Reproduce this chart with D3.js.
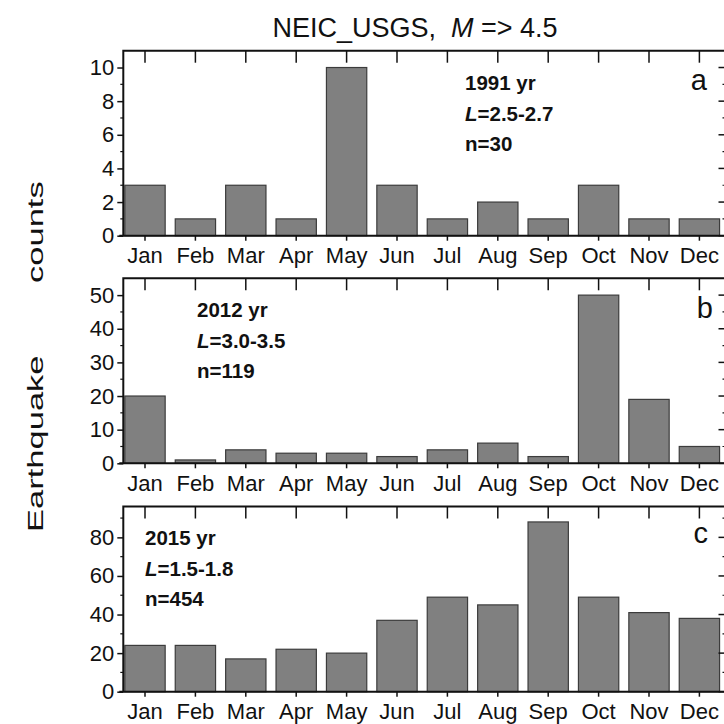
<!DOCTYPE html>
<html><head><meta charset="utf-8">
<script src="https://cdn.jsdelivr.net/npm/d3@7"></script>
<style>
body{margin:0;background:#fff}
svg{display:block}
text{font-family:"Liberation Sans",Arial,sans-serif;fill:#111}
</style>
</head><body>
<script>
// Monthly earthquake counts (NEIC/USGS catalogue, M >= 4.5) for three years
const months = ["Jan","Feb","Mar","Apr","May","Jun","Jul","Aug","Sep","Oct","Nov","Dec"];
const counts1991 = [3,1,3,1,10,3,1,2,1,3,1,1];
const counts2012 = [20,1,4,3,3,2,4,6,2,50,19,5];
const counts2015 = [24,24,17,22,20,37,49,45,88,49,41,38];

const panelLetters = ["a","b","c"];
const yearLabels = ["1991 yr","2012 yr","2015 yr"];
const lRanges = ["=2.5-2.7","=3.0-3.5","=1.5-1.8"];
const nLabels = ["n=30","n=119","n=454"];

const yMaxes = [11, 55, 96];
const yTicks1991 = [0,2,4,6,8,10];
const yTicks2012 = [0,10,20,30,40,50];
const yTicks2015 = [0,20,40,60,80];
const yMinor1991 = [1,3,5,7,9];
const yMinor2012 = [5,15,25,35,45];
const yMinor2015 = [10,30,50,70,90];

const W = 724, H = 724;
const svg = d3.select("body").append("svg").attr("width", W).attr("height", H);

const axisLeftX = 123.3, axisRightX = 725.5;
const panels = [
  {values: counts1991, ticks: yTicks1991, minor: yMinor1991, top: 50.7, bottom: 235.7,
   noteX: 465, noteY: 90, letterX: 707, letterY: 90},
  {values: counts2012, ticks: yTicks2012, minor: yMinor2012, top: 278.3, bottom: 463.3,
   noteX: 197, noteY: 317, letterX: 713, letterY: 318},
  {values: counts2015, ticks: yTicks2015, minor: yMinor2015, top: 506.5, bottom: 691.7,
   noteX: 145, noteY: 545, letterX: 708, letterY: 543}
];

const x = d3.scaleBand().domain(months).range([119.8, 724.6]).paddingInner(0.2).paddingOuter(0.1);

panels.forEach((p, i) => {
  const y = d3.scaleLinear().domain([0, yMaxes[i]]).range([p.bottom, p.top]);
  const g = svg.append("g");

  // bars
  g.selectAll("rect.bar").data(p.values).join("rect")
    .attr("class", "bar")
    .attr("x", (d, k) => x(months[k]))
    .attr("width", x.bandwidth())
    .attr("y", d => y(d))
    .attr("height", d => y(0) - y(d))
    .attr("fill", "#808080")
    .attr("stroke", "#3c3c3c")
    .attr("stroke-width", 1.2);

  // left axis with major labels
  const yl = g.append("g").attr("transform", `translate(${axisLeftX},0)`)
    .call(d3.axisLeft(y).tickValues(p.ticks).tickSize(6).tickPadding(3).tickFormat(d3.format("d")));
  yl.select(".domain").remove();
  yl.selectAll("line").attr("stroke", "#111").attr("stroke-width", 1.5);
  yl.selectAll("text").style("font-size", "22px").attr("fill", "#111");
  // left minor ticks
  g.selectAll("line.lminor").data(p.minor).join("line")
    .attr("x1", axisLeftX - 3).attr("x2", axisLeftX)
    .attr("y1", d => y(d)).attr("y2", d => y(d))
    .attr("stroke", "#111").attr("stroke-width", 1.2);

  // right axis ticks pointing inward
  g.selectAll("line.rmajor").data(p.ticks).join("line")
    .attr("x1", axisRightX - 7).attr("x2", axisRightX)
    .attr("y1", d => y(d)).attr("y2", d => y(d))
    .attr("stroke", "#111").attr("stroke-width", 1.5);
  g.selectAll("line.rminor").data(p.minor).join("line")
    .attr("x1", axisRightX - 3).attr("x2", axisRightX)
    .attr("y1", d => y(d)).attr("y2", d => y(d))
    .attr("stroke", "#111").attr("stroke-width", 1.2);

  // bottom month axis
  const xb = g.append("g").attr("transform", `translate(0,${p.bottom})`)
    .call(d3.axisBottom(x).tickSize(5).tickPadding(7));
  xb.select(".domain").remove();
  xb.selectAll("line").attr("stroke", "#111").attr("stroke-width", 1.5);
  xb.selectAll("text").style("font-size", "22px").attr("fill", "#111");

  // top month ticks pointing inward
  const xt = g.append("g").attr("transform", `translate(0,${p.top})`)
    .call(d3.axisTop(x).tickSize(-12).tickFormat(""));
  xt.select(".domain").remove();
  xt.selectAll("line").attr("stroke", "#111").attr("stroke-width", 1.5);

  // frame
  g.append("path")
    .attr("d", `M${axisLeftX - 4},${p.bottom}H${axisRightX}M${axisLeftX},${p.bottom}V${p.top}H${axisRightX}V${p.bottom}`)
    .attr("fill", "none").attr("stroke", "#111").attr("stroke-width", 2);

  // annotation block
  const note = g.append("g").style("font-size", "20.5px").style("font-weight", "bold");
  note.append("text").attr("x", p.noteX).attr("y", p.noteY).text(yearLabels[i]);
  const lt = note.append("text").attr("x", p.noteX).attr("y", p.noteY + 30.5);
  lt.append("tspan").style("font-style", "italic").text("L");
  lt.append("tspan").text(lRanges[i]);
  note.append("text").attr("x", p.noteX).attr("y", p.noteY + 60.5).text(nLabels[i]);

  // panel letter
  g.append("text").attr("x", p.letterX).attr("y", p.letterY)
    .attr("text-anchor", "end").style("font-size", "29px").text(panelLetters[i]);
});

// title
const title = svg.append("text").attr("x", 415).attr("y", 37.3)
  .attr("text-anchor", "middle").style("font-size", "27px").style("white-space", "pre");
title.append("tspan").text("NEIC_USGS,  ");
title.append("tspan").style("font-style", "italic").text("M");
title.append("tspan").text(" => 4.5");

// shared y-axis title, drawn with a wide letterform
const yt = svg.append("g").attr("transform", "translate(42.7,532) rotate(-90) scale(1.57,1)");
yt.append("text").attr("x", 0).attr("y", 0).style("font-size", "22px").text("Earthquake");
yt.append("text").attr("x", (532 - 283) / 1.57).attr("y", 0).style("font-size", "22px").text("counts");
</script>
</body></html>
